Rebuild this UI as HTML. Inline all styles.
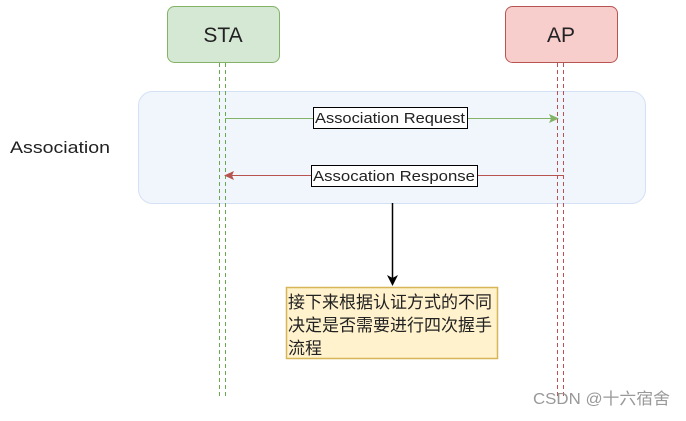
<!DOCTYPE html><html><head><style>body{margin:0;background:#fff}svg text{font-family:"Liberation Sans","Noto Sans CJK SC",sans-serif}</style></head><body>
<svg width="686" height="416" xmlns="http://www.w3.org/2000/svg">
<rect x="138.5" y="91.5" width="507" height="112" rx="14" fill="#f1f6fd" stroke="#d4e1f5"/>
<rect x="167.5" y="6.5" width="112" height="56" rx="7" fill="#d5e8d4" stroke="#82b366"/>
<text x="223" y="42" font-size="21" text-anchor="middle" fill="#222">STA</text>
<rect x="505.5" y="6.5" width="112" height="56" rx="7" fill="#f8cecc" stroke="#b85450"/>
<text x="561" y="42" font-size="21" text-anchor="middle" fill="#222">AP</text>
<g stroke-dasharray="4,3" fill="none">
<line x1="219.5" y1="63" x2="219.5" y2="398" stroke="#6aa84f"/>
<line x1="225.5" y1="63" x2="225.5" y2="398" stroke="#6aa84f"/>
<line x1="557.5" y1="63" x2="557.5" y2="398" stroke="#c0504d"/>
<line x1="563.5" y1="63" x2="563.5" y2="398" stroke="#c0504d"/>
</g>
<line x1="225" y1="118.5" x2="552" y2="118.5" stroke="#82b366"/>
<polygon points="559,118.5 549,114 551,118.5 549,123" fill="#82b366"/>
<rect x="313.5" y="107.5" width="154" height="21" fill="#fff" stroke="#000"/>
<text x="390" y="123" font-size="15" text-anchor="middle" fill="#222" textLength="150" lengthAdjust="spacingAndGlyphs">Association Request</text>
<line x1="231" y1="175.5" x2="563" y2="175.5" stroke="#b85450"/>
<polygon points="224,175.5 234,171 232,175.5 234,180" fill="#b85450"/>
<rect x="311.5" y="165.5" width="166" height="21" fill="#fff" stroke="#000"/>
<text x="394" y="181" font-size="15" text-anchor="middle" fill="#222" textLength="162" lengthAdjust="spacingAndGlyphs">Assocation Response</text>
<text x="10" y="153" font-size="17" fill="#222" textLength="100" lengthAdjust="spacingAndGlyphs">Association</text>
<line x1="392.5" y1="203" x2="392.5" y2="278" stroke="#000" stroke-width="1.5"/>
<polygon points="392.5,286 387,275 392.5,278 398,275" fill="#000"/>
<rect x="286.5" y="287.5" width="211" height="71" fill="#fff2cc" stroke="#d6b656" stroke-width="1.5"/>
<text font-size="17" fill="#222"><tspan x="288" y="308">接下来根据认证方式的不同</tspan><tspan x="288" y="331">决定是否需要进行四次握手</tspan><tspan x="288" y="354">流程</tspan></text>
<text x="533" y="404" font-size="16" fill="#999" textLength="137" lengthAdjust="spacingAndGlyphs">CSDN @十六宿舍</text>
</svg></body></html>
